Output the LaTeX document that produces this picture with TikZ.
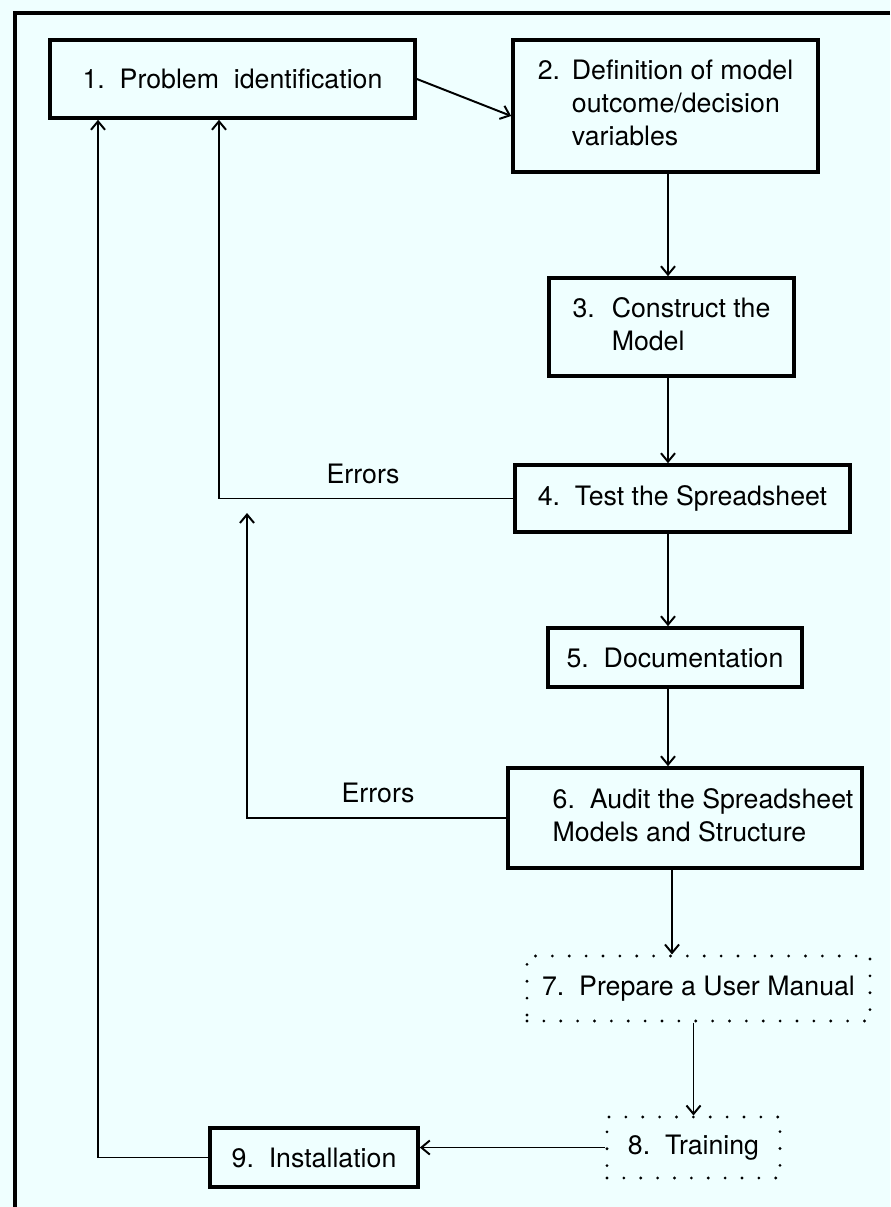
\documentclass[tikz,border=0pt]{standalone}
\usepackage{fontspec}
\setmainfont{TeX Gyre Heros}
\usetikzlibrary{arrows.meta}
\definecolor{paper}{HTML}{EFFFFF}

\begin{document}
\begin{tikzpicture}[x=0.025cm, y=-0.025cm,
    >={Straight Barb[length=6pt,width=10pt]},
    box/.style={draw, line width=2.6pt, inner sep=0pt, align=left,
      font=\fontsize{19}{23.5}\selectfont},
    dotbox/.style={box, line width=2.2pt, line cap=round,
      dash pattern=on 0pt off 12pt},
    link/.style={->, line width=1.4pt}]
  \def\unitpx{0.025cm}

  % achtergrond en kader
  \useasboundingbox (0,0) rectangle (890,1207);
  \fill[paper] (0,0) rectangle (890,1207);
  \draw[line width=2.2pt] (890,13) -- (15,13) -- (15,1207);

  % stappen
  \node[box, minimum width=365*\unitpx, minimum height=78*\unitpx] (b1) at (232.5,79)
    {1.\ \ Problem\ \ identification};
  \node[box, minimum width=305*\unitpx, minimum height=132*\unitpx] (b2) at (665.5,106)
    {\begin{tabular}{@{}l@{\ \,}l@{}}2. & Definition of model\\ & outcome/decision\\ & variables\end{tabular}};
  \node[box, minimum width=245*\unitpx, minimum height=98*\unitpx] (b3) at (671.5,327)
    {\begin{tabular}{@{}l@{\hspace{12pt}}l@{}}3. & Construct the\\ & Model\end{tabular}};
  \node[box, minimum width=335*\unitpx, minimum height=67*\unitpx] (b4) at (682.5,498.5)
    {4.\ \ Test the Spreadsheet};
  \node[box, minimum width=254*\unitpx, minimum height=59*\unitpx] (b5) at (675,657.5)
    {5.\ \ Documentation};
  \node[box, minimum width=354*\unitpx, minimum height=100*\unitpx] (b6) at (685,818)
    {\begin{tabular}{@{\hspace{0.9cm}}l@{}}6.\ \ Audit the Spreadsheet\\ Models and Structure\end{tabular}};
  \node[dotbox, minimum width=343*\unitpx, minimum height=65*\unitpx] (b7) at (698.5,988.5)
    {7.\ \ Prepare a User Manual};
  \node[dotbox, minimum width=173*\unitpx, minimum height=61*\unitpx] (b8) at (693.5,1147.5)
    {8.\ \ Training};
  \node[box, minimum width=208*\unitpx, minimum height=59*\unitpx] (b9) at (314,1157.5)
    {9.\ \ Installation};

  % hoofdlijn
  \coordinate (col) at (668,0);
  \draw[link] (b1.east) -- ([yshift=-0.25cm]b2.west);
  \draw[link] (b2.south -| col) -- (b3.north -| col);
  \draw[link] (b3.south -| col) -- (b4.north -| col);
  \draw[link] (b4.south -| col) -- (b5.north -| col);
  \draw[link] (b5.south -| col) -- (b6.north -| col);
  \draw[link] ([xshift=0.1cm]b6.south -| col) -- ([xshift=0.1cm]b7.north -| col);
  \draw[link] (b7.south -| b8.north) -- (b8.north);
  \draw[link] (b8.west) -- (b8.west -| b9.east);

  % terugkoppeling
  \coordinate (back1) at (219,0);
  \coordinate (back2) at (247,513);
  \coordinate (back3) at (98,0);
  \draw[link] (b4.west) -| (b1.south -| back1);
  \draw[link] (b6.west) -| (back2);
  \draw[link] (b9.west) -| (b1.south -| back3);
  \node[font=\fontsize{19}{23.5}\selectfont] (err1) at (363,474) {Errors};
  \node[font=\fontsize{19}{23.5}\selectfont] (err2) at (378,793) {Errors};
\end{tikzpicture}
\end{document}
